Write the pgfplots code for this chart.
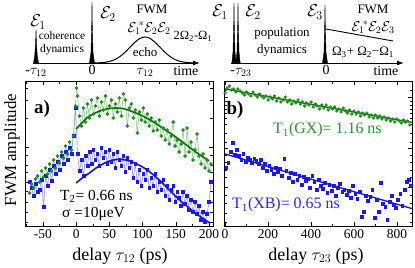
\documentclass[border=0pt]{standalone}
\usepackage{fontspec}
\setmainfont{Liberation Serif}
\usepackage{pgfplots}
\pgfplotsset{compat=1.18}
\usetikzlibrary{arrows.meta}
\newcommand{\fs}[1]{\fontsize{#1}{#1}\selectfont}
\definecolor{gdot}{RGB}{30,140,30}
\definecolor{gline}{RGB}{130,195,130}
\definecolor{gfit}{RGB}{0,115,0}
\definecolor{bdot}{RGB}{25,25,235}
\definecolor{bline}{RGB}{140,140,245}
\definecolor{bfit}{RGB}{20,20,210}
\definecolor{gtext}{RGB}{40,150,40}
\definecolor{btext}{RGB}{40,40,230}
\pgfplotsset{panel/.style={scale only axis, width=188bp, height=145bp, ymin=0, ymax=145,
  anchor=south west, tick align=inside, major tick length=4bp, minor tick length=2.5bp,
  every tick/.style={black, line width=0.5bp}, axis line style={line width=0.8bp},
  yticklabels={}, xticklabel style={font=\fs{13.5}, yshift=0bp}}}
\begin{document}
\begin{tikzpicture}
\path[use as bounding box] (0bp,0bp) rectangle (415bp,-268bp);
% ---------------- panel a
\begin{axis}[panel, at={(25bp,-226bp)}, xmin=-77, xmax=206,
  xtick={-50,0,50,100,150,200}, xticklabels={\textrm{-50},\textrm{0},\textrm{50},\textrm{100},\textrm{150},\textrm{200}},
  minor xtick={-75,-25,25,75,125,175},
  ytick={79}, minor ytick={4,14,24,35,44,54,61,71,108,126,138}]
\addplot[bline, line width=0.55bp, mark=square*, mark size=1.35bp, mark options={fill=bdot, draw=bdot}] coordinates {
(-70,44)(-67,38)(-64,30)(-61,42)(-58,34)(-55,36)(-52,46)(-49,19)(-46,50)(-43,40)(-40,56)(-37,45)(-34,60)(-31,52)(-28,64)(-25,56)(-22,70)(-19,62)(-16,74)(-13,66)(-10,78)(-7,72)(-4,90)(-1,118)(2,72)(5,55)(8,66)(11,50)(14,70)(17,60)(20,74)(23,62)(26,76)(29,66)(32,72)(35,60)(38,78)(41,68)(44,74)(47,62)(50,76)(53,64)(56,72)(59,58)(62,74)(65,66)(68,60)(71,70)(74,54)(77,68)(80,58)(83,64)(86,48)(89,62)(92,44)(95,56)(98,40)(101,52)(104,46)(107,56)(110,38)(113,48)(116,40)(119,52)(122,34)(125,44)(128,36)(131,46)(134,30)(137,40)(140,26)(143,36)(146,40)(149,24)(152,34)(155,28)(158,20)(161,34)(164,22)(167,30)(170,16)(173,26)(176,14)(179,24)(182,12)(185,20)(188,6)(191,14)(194,4)(197,12)(200,24)(203,44)};
\addplot[gline, line width=0.55bp, mark=*, mark size=1.5bp, mark options={fill=gdot, draw=gdot}] coordinates {
(-70,33)(-67,42)(-64,38)(-61,47)(-58,50)(-55,44)(-52,55)(-49,49)(-46,58)(-43,52)(-40,62)(-37,55)(-34,66)(-31,58)(-28,70)(-25,63)(-22,74)(-19,68)(-16,80)(-13,72)(-10,84)(-7,76)(-4,90)(-1,120)(0.5,138)(2,130)(5,110)(8,100)(11,118)(14,104)(17,122)(20,108)(23,126)(26,112)(29,120)(32,128)(35,110)(38,124)(41,116)(44,130)(47,112)(50,120)(53,126)(56,108)(59,122)(62,114)(65,128)(68,110)(71,132)(74,126)(77,100)(80,118)(83,122)(86,108)(89,116)(92,93)(95,114)(98,106)(101,118)(104,104)(107,112)(110,100)(113,108)(116,95)(119,104)(122,96)(125,106)(128,90)(131,98)(134,86)(137,96)(140,82)(143,90)(146,104)(149,80)(152,86)(155,74)(158,82)(161,96)(164,70)(167,98)(170,74)(173,84)(176,66)(179,76)(182,92)(185,70)(188,62)(191,72)(194,58)(197,66)(200,55)(203,62)};
\addplot[gfit, line width=1.6bp, smooth] coordinates {
(0,97)(5,100.5)(10,104)(15,107.5)(20,110)(30,113.5)(40,116)(50,117.5)(60,118)(70,117.5)(80,115.5)(90,113)(100,110)(110,106.5)(120,102.5)(130,98)(140,93.5)(150,89)(160,84)(170,79)(180,74)(190,69.5)(200,65)};
\addplot[bfit, line width=1.6bp, smooth] coordinates {
(0,43)(10,48.5)(20,53)(30,58)(40,62)(50,65)(60,66.5)(70,66.5)(80,65)(90,62.5)(100,59)(110,54.5)(120,49)(130,43)(140,36)(150,29.5)(160,23.5)(170,18)(180,12.5)(190,8)(200,3.5)};
\end{axis}
% ---------------- panel b
\begin{axis}[panel, at={(224bp,-226bp)}, xmin=-5, xmax=870,
  xtick={0,200,400,600,800}, xticklabels={\textrm{0},\textrm{200},\textrm{400},\textrm{600},\textrm{800}},
  minor xtick={100,300,500,700},
  ytick={39,78,129}, minor ytick={4,13,23,31,49,56,64,71,84,93,102,108,113,117,121,125,136}]
\addplot[only marks, mark=square*, mark size=1.35bp, mark options={fill=bdot, draw=bdot}] coordinates {
(5,58)(15,63)(25,74)(35,83)(45,71)(55,76)(65,70)(75,66)(85,72)(95,64)(105,68)(115,66)(125,63)(135,67)(145,65)(155,62)(165,66)(175,58)(185,62)(195,55)(205,60)(215,56)(225,52)(235,58)(245,54)(255,57)(265,50)(275,67)(285,55)(295,48)(305,53)(315,44)(325,52)(335,46)(345,50)(355,41)(365,49)(375,45)(385,47)(395,38)(405,50)(415,44)(425,36)(435,46)(445,40)(455,37)(465,43)(475,33)(485,41)(495,35)(505,40)(515,30)(525,38)(535,42)(545,34)(555,36)(565,31)(575,35)(585,28)(595,40)(605,32)(615,27)(625,34)(635,9)(645,14)(655,30)(665,25)(675,29)(685,36)(695,8)(705,26)(715,14)(725,43)(735,22)(745,19)(755,6)(765,24)(775,30)(785,21)(795,18)(805,26)(815,32)(825,20)(835,36)(845,44)(855,46)(865,40)};
\addplot[gline, line width=0.55bp, mark=*, mark size=1.35bp, mark options={fill=gdot, draw=gdot}] coordinates {
(0,133)(10,138)(20,140)(30,136)(40,137)(50,134)(60,137)(70,135)(80,133)(90,131)(100,134)(110,132)(120,130)(130,134)(140,131)(150,129)(160,132)(170,130)(180,128)(190,130)(200,126)(210,129)(220,127)(230,130)(240,125)(250,128)(260,124)(270,126)(280,129)(290,124)(300,126)(310,122)(320,125)(330,123)(340,126)(350,122)(360,124)(370,120)(380,123)(390,121)(400,124)(410,119)(420,122)(430,120)(440,117)(450,121)(460,118)(470,121)(480,116)(490,119)(500,117)(510,119)(520,115)(530,117)(540,114)(550,118)(560,115)(570,113)(580,116)(590,112)(600,115)(610,112)(620,114)(630,110)(640,113)(650,111)(660,113)(670,109)(680,111)(690,108)(700,111)(710,108)(720,110)(730,107)(740,109)(750,106)(760,108)(770,105)(780,107)(790,104)(800,107)(810,105)(820,103)(830,106)(840,104)(850,105)(860,101)};
\addplot[gfit, line width=1.3bp] coordinates {(0,137)(870,103.6)};
\addplot[bfit, line width=1.3bp] coordinates {(0,72)(870,17.4)};
\end{axis}
% ---------------- overlay: schematics and texts
\tikzset{every node/.append style={inner sep=0pt}}
\begin{axis}[at={(0bp,-268bp)}, anchor=south west, width=415bp, height=268bp, scale only axis,
  xmin=0, xmax=415, ymin=-268, ymax=0, hide axis, clip=false]
% schematic a
\addplot[black, line width=1bp, -{Latex[length=7bp,width=5bp]}] coordinates {(33,-63) (200,-63)};
\addplot[black, fill=black, line width=0.4bp] coordinates {(33.5,-63)(34.8,-55)(35.6,-42)(36,-30)(36.4,-42)(37.2,-55)(38.5,-63)};
\addplot[black, fill=black, line width=0.4bp] coordinates {(89.5,-63)(91,-52)(91.7,-25)(92,-2)(92.3,-25)(93,-52)(94.5,-63)};
\addplot[black, line width=1bp, smooth] coordinates {(95,-63)(100,-62.7)(105,-62.3)(110,-61.3)(115,-59.5)(120,-56.5)(125,-52.3)(130,-47.2)(135,-42.2)(140,-38.4)(145,-37)(150,-38.4)(155,-42.2)(160,-47.2)(165,-52.3)(170,-56.5)(175,-59.5)(180,-61.3)(185,-62.3)(190,-62.7)(195,-63)};
% schematic b
\addplot[black, line width=1bp, -{Latex[length=7bp,width=5bp]}] coordinates {(231,-63) (404,-63)};
\addplot[black, fill=black, line width=0.4bp] coordinates {(231.8,-63)(233,-52)(233.7,-25)(234,-3)(234.3,-25)(235,-52)(236.2,-63)};
\addplot[black, fill=black, line width=0.4bp] coordinates {(235.8,-63)(237,-52)(237.7,-25)(238,-3)(238.3,-25)(239,-52)(240.2,-63)};
\addplot[black, fill=black, line width=0.4bp] coordinates {(322.5,-63)(324,-52)(324.7,-25)(325,-5)(325.3,-25)(326,-52)(327.5,-63)};
\addplot[black, line width=0.9bp] coordinates {(326,-29) (393,-41)};
% schematic texts a
\node[font=\fs{17}] at (axis cs:38,-22) {$\mathcal{E}_1$};
\node[font=\fs{17}] at (axis cs:108,-14) {$\mathcal{E}_2$};
\node[font=\fs{11.5}] at (axis cs:62,-36) {coherence};
\node[font=\fs{11.5}] at (axis cs:62,-50) {dynamics};
\node[font=\fs{13}] at (axis cs:152,-9.5) {FWM};
\node[font=\fs{14}] at (axis cs:149,-28) {${\mathcal{E}_1}^{\!*}\mathcal{E}_2\mathcal{E}_2$};
\node[font=\fs{13}] at (axis cs:145,-52) {echo};
\node[font=\fs{12.5}] at (axis cs:193,-36) {2Ω\textsubscript{2}-Ω\textsubscript{1}};
\node[font=\fs{14}] at (axis cs:36,-72) {-$\tau_{12}$};
\node[font=\fs{14}] at (axis cs:92,-70) {0};
\node[font=\fs{14}] at (axis cs:145,-72) {$\tau_{12}$};
\node[font=\fs{14}] at (axis cs:186,-71) {time};
% schematic texts b
\node[font=\fs{17}] at (axis cs:220,-12) {$\mathcal{E}_1$};
\node[font=\fs{17}] at (axis cs:253,-12) {$\mathcal{E}_2$};
\node[font=\fs{17}] at (axis cs:315,-12) {$\mathcal{E}_3$};
\node[font=\fs{13}] at (axis cs:282,-33) {population};
\node[font=\fs{13}] at (axis cs:282,-50) {dynamics};
\node[font=\fs{13}] at (axis cs:373,-9) {FWM};
\node[font=\fs{14}] at (axis cs:373,-27) {${\mathcal{E}_1}^{\!*}\mathcal{E}_2\mathcal{E}_3$};
\node[font=\fs{13}] at (axis cs:363,-52) {Ω\textsubscript{3}+ Ω\textsubscript{2}−Ω\textsubscript{1}};
\node[font=\fs{14}] at (axis cs:241,-72) {-$\tau_{23}$};
\node[font=\fs{14}] at (axis cs:326,-70) {0};
\node[font=\fs{14}] at (axis cs:386,-71) {time};
% panel texts
\node[font=\fs{19}\bfseries] at (axis cs:42,-109) {a)};
\node[font=\fs{19}\bfseries] at (axis cs:235,-110) {b)};
\node[font=\fs{15.5}, anchor=west] at (axis cs:60,-196) {T\textsubscript{2}= 0.66 ns};
\node[font=\fs{15.5}, anchor=west] at (axis cs:62,-214) {σ =10μeV};
\node[font=\fs{16}, anchor=west, text=gtext] at (axis cs:273,-130) {T\textsubscript{1}(GX)= 1.16 ns};
\node[font=\fs{16}, anchor=west, text=btext] at (axis cs:232,-205) {T\textsubscript{1}(XB)= 0.65 ns};
\node[font=\fs{17}, rotate=90] at (axis cs:12,-150) {FWM amplitude};
\node[font=\fs{18}] at (axis cs:120,-256) {delay $\tau_{12}$ (ps)};
\node[font=\fs{18}] at (axis cs:316,-256) {delay $\tau_{23}$ (ps)};
\end{axis}
\end{tikzpicture}
\end{document}
